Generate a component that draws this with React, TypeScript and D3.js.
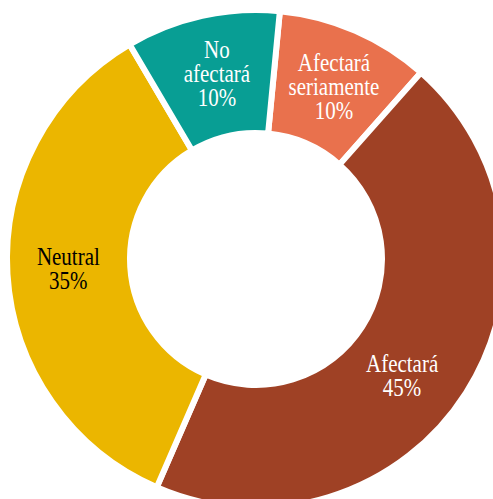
import React from "react";
import * as d3 from "d3";

const categories = ["Afectará seriamente", "Afectará", "Neutral", "No afectará"];
const labelLines = [["Afectará", "seriamente"], ["Afectará"], ["Neutral"], ["No", "afectará"]];
const values = [10, 45, 35, 10];
const colors = ["#e9714d", "#9f4125", "#ebb600", "#089e94"];
const textColors = ["#ffffff", "#ffffff", "#000000", "#ffffff"];

// label placement tweaks (degrees along the ring), styling only
const labelNudgeDeg = [1, 6.5, 0, 0.5];

const W = 493;
const H = 499;
const cx = 256;
const cy = 259;
const rOuter = 249;
const rInner = 126;
const rLabel = 188;
const offset = (5.5 * Math.PI) / 180;
const fontSize = 25;
const lineH = 24;
const squeeze = 0.84;

export default function App() {
  const pie = d3
    .pie<number>()
    .sort(null)
    .value((d) => d)
    .startAngle(offset)
    .endAngle(offset + 2 * Math.PI);
  const arcs = pie(values);
  const arc = d3.arc<d3.PieArcDatum<number>>().innerRadius(rInner).outerRadius(rOuter);
  const total = d3.sum(values);

  return (
    <svg
      width={W}
      height={H}
      style={{ position: "absolute", left: 0, top: 0, background: "#fff" }}
    >
      <g transform={`translate(${cx},${cy})`}>
        {arcs.map((a, i) => (
          <path
            key={categories[i]}
            d={arc(a) || ""}
            fill={colors[i]}
            stroke="#fff"
            strokeWidth={6}
            strokeLinejoin="miter"
          />
        ))}
        {arcs.map((a, i) => {
          const mid = (a.startAngle + a.endAngle) / 2 + (labelNudgeDeg[i] * Math.PI) / 180;
          const x = rLabel * Math.sin(mid);
          const y = -rLabel * Math.cos(mid);
          const lines = [...labelLines[i], `${Math.round((values[i] / total) * 100)}%`];
          const n = lines.length;
          const firstBase = y - ((n - 1) * lineH) / 2 + 7;
          return (
            <g key={"t" + i} transform={`translate(${x},0) scale(${squeeze},1)`}>
              <text
                textAnchor="middle"
                fontFamily="'Liberation Serif', 'DejaVu Serif', serif"
                fontSize={fontSize}
                fill={textColors[i]}
              >
                {lines.map((l, j) => (
                  <tspan key={j} x={0} y={firstBase + j * lineH}>
                    {l}
                  </tspan>
                ))}
              </text>
            </g>
          );
        })}
      </g>
    </svg>
  );
}
